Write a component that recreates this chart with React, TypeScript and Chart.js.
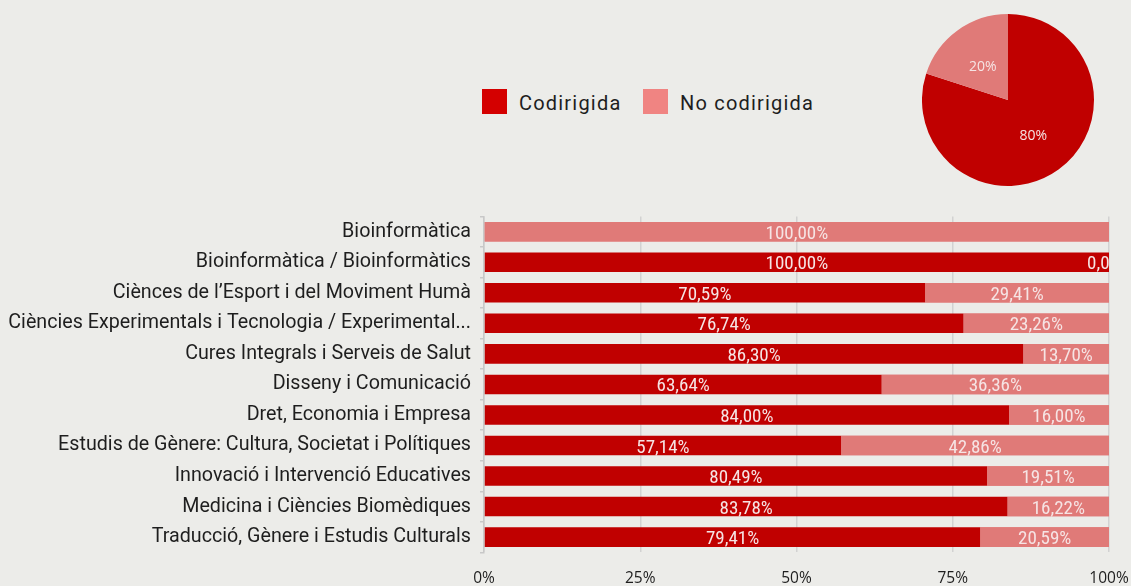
import React, { useEffect, useRef } from "react";
import { Chart, registerables } from "chart.js";

Chart.register(...registerables);

const categories = [
  "Bioinformàtica",
  "Bioinformàtica / Bioinformàtics",
  "Ciènces de l’Esport i del Moviment Humà",
  "Ciències Experimentals i Tecnologia / Experimental...",
  "Cures Integrals i Serveis de Salut",
  "Disseny i Comunicació",
  "Dret, Economia i Empresa",
  "Estudis de Gènere: Cultura, Societat i Polítiques",
  "Innovació i Intervenció Educatives",
  "Medicina i Ciències Biomèdiques",
  "Traducció, Gènere i Estudis Culturals",
];
const seriesNames = ["Codirigida", "No codirigida"];
const codirigida = [0, 100, 70.59, 76.74, 86.3, 63.64, 84.0, 57.14, 80.49, 83.78, 79.41];
const noCodirigida = [100, 0, 29.41, 23.26, 13.7, 36.36, 16.0, 42.86, 19.51, 16.22, 20.59];
const pieValues = [80, 20];
const xTickValues = [0, 25, 50, 75, 100];

const DARK = "#c00000";
const LIGHT = "#e07a78";
const LEGEND_DARK = "#d40000";
const LEGEND_LIGHT = "#f08482";
const BG = "#ecece9";
const TEXT = "#1e1e1e";
const LABEL_COLOR = "#f6e4e4";
const NARROW = "'Roboto Condensed', 'Open Sans', sans-serif";

const fmt = (v: number) => v.toFixed(2).replace(".", ",") + "%";

const barLabelPlugin = {
  id: "barLabels",
  afterDatasetsDraw(chart: any) {
    const ctx = chart.ctx;
    const area = chart.chartArea;
    ctx.save();
    ctx.beginPath();
    ctx.rect(area.left, area.top, area.right - area.left, area.bottom - area.top);
    ctx.clip();
    const drawLabels = (di: number) => {
      const meta = chart.getDatasetMeta(di);
      const data = chart.data.datasets[di].data as number[];
      ctx.font = `19px ${NARROW}`;
      ctx.fillStyle = LABEL_COLOR;
      ctx.textAlign = "center";
      ctx.textBaseline = "middle";
      meta.data.forEach((el: any, i: number) => {
        const { x, y, base } = el.getProps(["x", "y", "base"], true);
        ctx.fillText(fmt(data[i]), (x + base) / 2, y + 2.3);
      });
    };
    drawLabels(0);
    const meta1 = chart.getDatasetMeta(1);
    meta1.data.forEach((el: any) => el.draw(ctx, area));
    drawLabels(1);
    ctx.restore();
  },
};

const pieLabelPlugin = {
  id: "pieLabels",
  afterDatasetsDraw(chart: any) {
    const ctx = chart.ctx;
    const meta = chart.getDatasetMeta(0);
    const data = chart.data.datasets[0].data as number[];
    ctx.save();
    ctx.font = "14px 'Open Sans', sans-serif";
    ctx.fillStyle = LABEL_COLOR;
    ctx.textAlign = "center";
    ctx.textBaseline = "middle";
    meta.data.forEach((arc: any, i: number) => {
      const p = arc.tooltipPosition(true);
      ctx.fillText(`${data[i]}%`, p.x, p.y + 1.5);
    });
    ctx.restore();
  },
};

export default function App() {
  const barRef = useRef<HTMLCanvasElement>(null);
  const pieRef = useRef<HTMLCanvasElement>(null);

  useEffect(() => {
    const bar = new Chart(barRef.current as HTMLCanvasElement, {
      type: "bar",
      data: {
        labels: categories,
        datasets: [
          {
            label: seriesNames[0],
            data: codirigida,
            backgroundColor: DARK,
            barPercentage: 0.64,
            categoryPercentage: 1,
          },
          {
            label: seriesNames[1],
            data: noCodirigida,
            backgroundColor: LIGHT,
            barPercentage: 0.64,
            categoryPercentage: 1,
          },
        ],
      },
      options: {
        indexAxis: "y",
        responsive: false,
        animation: false,
        devicePixelRatio: 1,
        layout: { padding: { top: 16.4, right: 22, left: 0, bottom: 0 } },
        plugins: { legend: { display: false }, tooltip: { enabled: false } },
        scales: {
          x: {
            stacked: true,
            min: 0,
            max: 100,
            afterBuildTicks: (scale: any) => {
              scale.ticks = xTickValues.map((v) => ({ value: v }));
            },
            afterFit: (scale: any) => {
              scale.height = 33.6;
              scale.paddingLeft = 0;
              scale.paddingRight = 0;
            },
            ticks: {
              callback: (v: any) => `${v}%`,
              font: { family: "'Open Sans', sans-serif", size: 15.5 },
              color: TEXT,
              padding: 17,
              maxRotation: 0,
            },
            grid: { color: "#d2d2d2", lineWidth: 1.5, drawTicks: false },
            border: { display: false },
          },
          y: {
            stacked: true,
            afterFit: (scale: any) => {
              scale.width = 484;
              scale.paddingTop = 0;
              scale.paddingBottom = 0;
            },
            ticks: {
              font: { family: "Roboto, sans-serif", size: 19.7 },
              color: TEXT,
              padding: 9,
              autoSkip: false,
            },
            grid: {
              drawOnChartArea: false,
              offset: true,
              tickLength: 4,
              color: "#c8c8c8",
              lineWidth: 1.5,
            },
            border: { color: "#c8c8c8", width: 1.5 },
          },
        },
      },
      plugins: [barLabelPlugin],
    });

    const pie = new Chart(pieRef.current as HTMLCanvasElement, {
      type: "pie",
      data: {
        labels: seriesNames,
        datasets: [
          {
            data: pieValues,
            backgroundColor: [DARK, LIGHT],
            borderWidth: 0,
          },
        ],
      },
      options: {
        responsive: false,
        animation: false,
        devicePixelRatio: 1,
        layout: { padding: 0 },
        plugins: { legend: { display: false }, tooltip: { enabled: false } },
      },
      plugins: [pieLabelPlugin],
    });

    return () => {
      bar.destroy();
      pie.destroy();
    };
  }, []);

  const legendItem = (name: string, color: string, left: number) => (
    <div
      key={name}
      style={{ position: "absolute", left, top: 89, display: "flex", alignItems: "center", height: 25 }}
    >
      <div style={{ width: 25, height: 25, background: color, flex: "none" }} />
      <span
        style={{
          marginLeft: 12,
          font: "20px Roboto, sans-serif",
          letterSpacing: "1.2px",
          color: TEXT,
          lineHeight: "25px",
          whiteSpace: "nowrap",
          position: "relative",
          top: 1.5,
        }}
      >
        {name}
      </span>
    </div>
  );

  return (
    <div
      style={{
        position: "fixed",
        left: 0,
        top: 0,
        width: 1131,
        height: 586,
        background: BG,
        overflow: "hidden",
      }}
    >
      {legendItem(seriesNames[0], LEGEND_DARK, 482)}
      {legendItem(seriesNames[1], LEGEND_LIGHT, 643)}
      <canvas
        ref={pieRef}
        width={172}
        height={172}
        style={{ position: "absolute", left: 922, top: 14, width: 172, height: 172 }}
      />
      <canvas
        ref={barRef}
        width={1131}
        height={386}
        style={{ position: "absolute", left: 0, top: 200, width: 1131, height: 386 }}
      />
    </div>
  );
}
